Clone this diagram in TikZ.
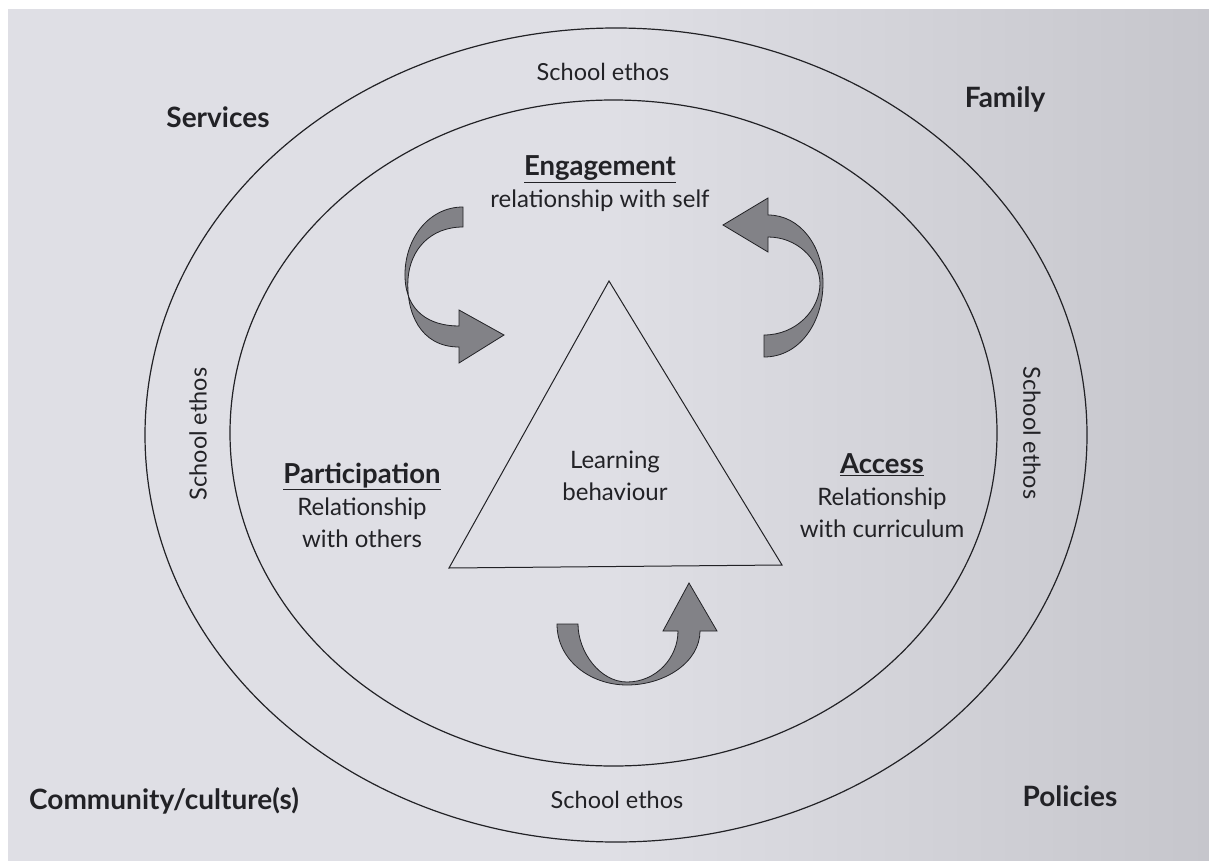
\documentclass[tikz,border=0pt]{standalone}
\usepackage{fontspec}
\setmainfont{Lato}
\usepackage{tikz}
\definecolor{pagegray}{RGB}{223,223,229}
\definecolor{pagedark}{RGB}{198,198,204}
\definecolor{arrowgray}{RGB}{130,130,135}
\definecolor{inkgray}{RGB}{34,34,38}
\tikzset{
  ethos/.style={font=\fontsize{23.5}{27}\selectfont, text=inkgray},
  outside/.style={font=\bfseries\fontsize{28}{32}\selectfont, text=inkgray},
  relbox/.style={align=center, font=\fontsize{24}{32}\selectfont, text=inkgray},
  ribbon/.style={draw=inkgray, line width=0.8pt, fill=arrowgray},
  ring/.style={draw=inkgray, line width=1.2pt},
}
\newcommand{\heading}[1]{{\fontsize{27.5}{32}\selectfont\underline{\textbf{#1}}}}

\begin{document}
\begin{tikzpicture}[x=1pt,y=-1pt]
  \useasboundingbox (0,0) rectangle (1209,861);
  \fill[white] (0,0) rectangle (1209,861);
  \shade[left color=pagegray, right color=pagedark, middle color=pagegray] (8,10) rectangle (1209,861);

  %% the two rings
  \draw[ring] (616,435) ellipse [x radius=471pt, y radius=407pt];
  \draw[ring] (613.5,433) ellipse [x radius=383.5pt, y radius=333pt];

  \node[ethos] (ethostop) at (603,72) {School ethos};
  \node[ethos] (ethosbottom) at (617,800) {School ethos};
  \node[ethos, rotate=90] (ethosleft) at (198,434) {School ethos};
  \node[ethos, rotate=-90] (ethosright) at (1032,433) {School ethos};

  \node[outside] (services) at (218,117) {Services};
  \node[outside] (family) at (1005,99) {Family};
  \node[outside] (community) at (164,801) {Community/culture(s)};
  \node[outside] (policies) at (1070,796) {Policies};

  %% triangle in the middle
  \draw[inkgray, line width=1pt] (609,281) -- (449,568) -- (782,565) -- cycle;
  \node[relbox] (learning) at (615,476) {Learning\\behaviour};

  \node[relbox] (engagement) at (600,184) {\heading{Engagement}\\relationship with self};
  \node[relbox] (participation) at (362,505) {\heading{Participation}\\Relationship\\with others};
  \node[relbox] (access) at (882,496) {\heading{Access}\\Relationship\\with curriculum};

  %% curved arrows
  \draw[ribbon] (463,207) .. controls (428,207) and (404,240) .. (405,277)
     .. controls (406,312) and (430,326) .. (459,326)
     -- (459,310) -- (504,335) -- (459,363) -- (459,347)
     .. controls (420,347) and (406,312) .. (408,279)
     .. controls (410,250) and (430,227) .. (463,227) -- cycle;

  \draw[ribbon] (764,357) .. controls (800,357) and (823,322) .. (823,283)
     .. controls (823,246) and (800,215) .. (768,215)
     -- (768,198) -- (723,225) -- (768,252) -- (768,237)
     .. controls (796,237) and (819,258) .. (820,283)
     .. controls (820,310) and (796,335) .. (764,335) -- cycle;

  \draw[ribbon] (557,624) .. controls (557,660) and (590,685) .. (627,685)
     .. controls (665,685) and (700,662) .. (700,631)
     -- (717,631) -- (689,583) -- (663,631) -- (678,631)
     .. controls (678,658) and (656,682) .. (627,682)
     .. controls (600,682) and (578,652) .. (578,624) -- cycle;
\end{tikzpicture}
\end{document}
